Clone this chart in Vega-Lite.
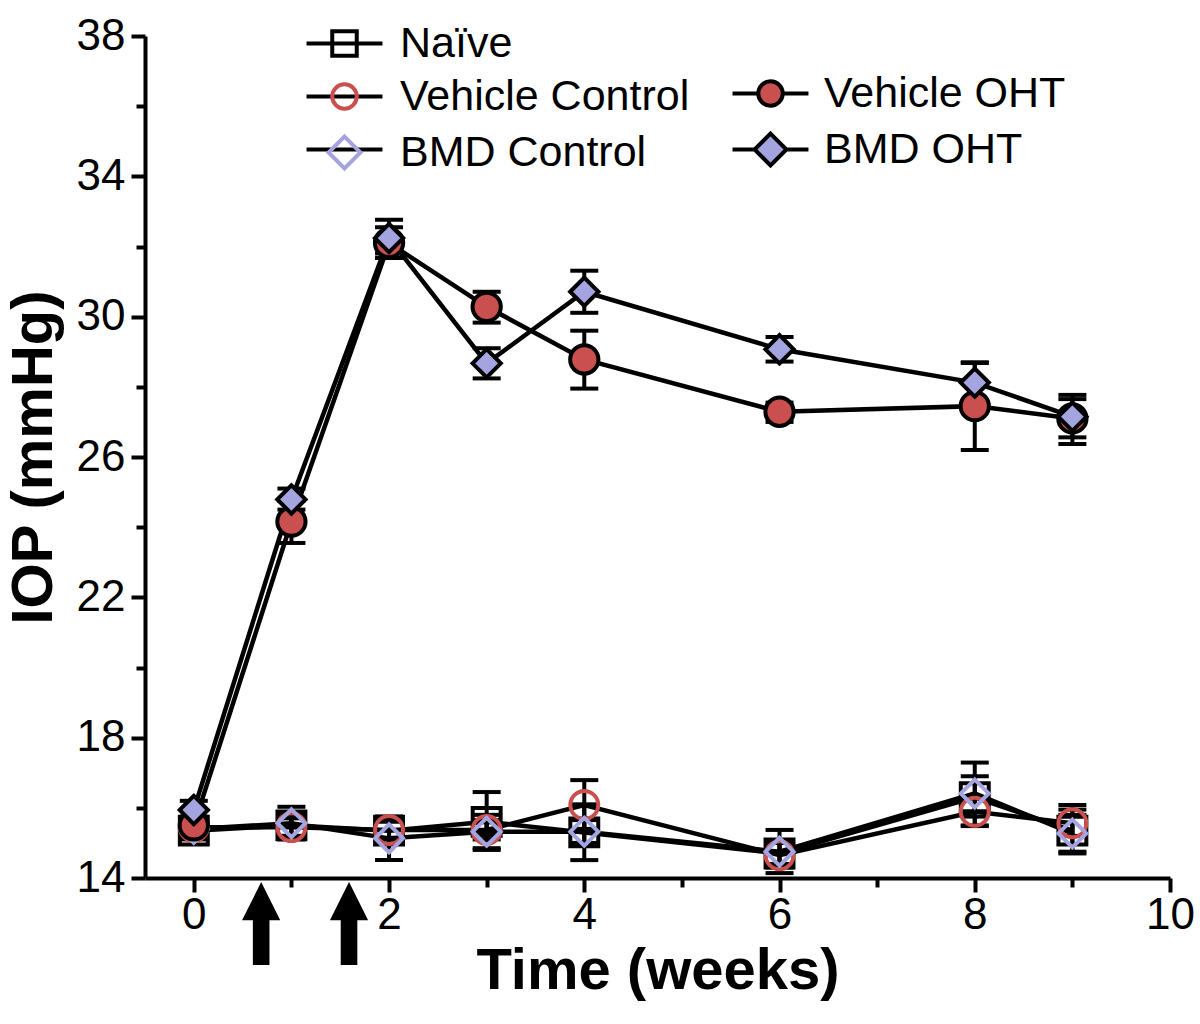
{
  "$schema": "https://vega.github.io/schema/vega-lite/v6.json",
  "autosize": {"type": "none"},
  "width": 1025,
  "height": 842,
  "padding": {"left": 145, "top": 36, "right": 30, "bottom": 146},
  "background": "white",
  "config": {
    "view": {"stroke": null},
    "font": "Liberation Sans",
    "axis": {"grid": false, "domainColor": "black", "domainWidth": 4, "tickColor": "black", "tickWidth": 4, "labelColor": "black", "titleColor": "black", "labelFont": "Liberation Sans", "titleFont": "Liberation Sans", "labelFlush": false},
    "legend": {"labelFont": "Liberation Sans", "labelColor": "black", "labelFontSize": 43, "labelLimit": 0, "padding": 0, "rowPadding": 9, "title": null}
  },
  "datasets": {
    "iop": [
      {"week": 0, "group": "Naïve", "iop": 15.35, "lo": 15.1, "hi": 15.6},
      {"week": 1, "group": "Naïve", "iop": 15.5, "lo": 15.2, "hi": 15.8},
      {"week": 2, "group": "Naïve", "iop": 15.35, "lo": 15.1, "hi": 15.6},
      {"week": 3, "group": "Naïve", "iop": 15.6, "lo": 14.8, "hi": 16.45},
      {"week": 4, "group": "Naïve", "iop": 15.3, "lo": 15.0, "hi": 15.65},
      {"week": 6, "group": "Naïve", "iop": 14.7, "lo": 14.4, "hi": 15.0},
      {"week": 8, "group": "Naïve", "iop": 16.3, "lo": 15.75, "hi": 16.9},
      {"week": 9, "group": "Naïve", "iop": 15.35, "lo": 14.75, "hi": 16.08},
      {"week": 0, "group": "Vehicle Control", "iop": 15.45, "lo": 15.2, "hi": 15.7},
      {"week": 1, "group": "Vehicle Control", "iop": 15.45, "lo": 15.2, "hi": 15.7},
      {"week": 2, "group": "Vehicle Control", "iop": 15.37, "lo": 15.1, "hi": 15.65},
      {"week": 3, "group": "Vehicle Control", "iop": 15.37, "lo": 15.1, "hi": 15.65},
      {"week": 4, "group": "Vehicle Control", "iop": 16.08, "lo": 15.4, "hi": 16.79},
      {"week": 6, "group": "Vehicle Control", "iop": 14.65, "lo": 14.3, "hi": 15.0},
      {"week": 8, "group": "Vehicle Control", "iop": 15.89, "lo": 15.48, "hi": 16.3},
      {"week": 9, "group": "Vehicle Control", "iop": 15.56, "lo": 15.2, "hi": 15.95},
      {"week": 0, "group": "BMD Control", "iop": 15.4, "lo": 15.15, "hi": 15.65},
      {"week": 1, "group": "BMD Control", "iop": 15.56, "lo": 15.1, "hi": 16.03},
      {"week": 2, "group": "BMD Control", "iop": 15.13, "lo": 14.51, "hi": 15.75},
      {"week": 3, "group": "BMD Control", "iop": 15.32, "lo": 14.85, "hi": 15.8},
      {"week": 4, "group": "BMD Control", "iop": 15.32, "lo": 14.51, "hi": 16.1},
      {"week": 6, "group": "BMD Control", "iop": 14.75, "lo": 14.14, "hi": 15.37},
      {"week": 8, "group": "BMD Control", "iop": 16.41, "lo": 15.5, "hi": 17.29},
      {"week": 9, "group": "BMD Control", "iop": 15.27, "lo": 14.7, "hi": 15.8},
      {"week": 0, "group": "Vehicle OHT", "iop": 15.5, "lo": 15.25, "hi": 15.75},
      {"week": 1, "group": "Vehicle OHT", "iop": 24.16, "lo": 23.55, "hi": 24.75},
      {"week": 2, "group": "Vehicle OHT", "iop": 32.1, "lo": 31.67, "hi": 32.55},
      {"week": 3, "group": "Vehicle OHT", "iop": 30.28, "lo": 29.83, "hi": 30.71},
      {"week": 4, "group": "Vehicle OHT", "iop": 28.78, "lo": 27.95, "hi": 29.6},
      {"week": 6, "group": "Vehicle OHT", "iop": 27.29, "lo": 27.0, "hi": 27.55},
      {"week": 8, "group": "Vehicle OHT", "iop": 27.45, "lo": 26.2, "hi": 28.7},
      {"week": 9, "group": "Vehicle OHT", "iop": 27.1, "lo": 26.56, "hi": 27.65},
      {"week": 0, "group": "BMD OHT", "iop": 15.94, "lo": 15.7, "hi": 16.2},
      {"week": 1, "group": "BMD OHT", "iop": 24.79, "lo": 24.5, "hi": 25.1},
      {"week": 2, "group": "BMD OHT", "iop": 32.24, "lo": 31.8, "hi": 32.76},
      {"week": 3, "group": "BMD OHT", "iop": 28.67, "lo": 28.24, "hi": 29.1},
      {"week": 4, "group": "BMD OHT", "iop": 30.71, "lo": 30.11, "hi": 31.31},
      {"week": 6, "group": "BMD OHT", "iop": 29.07, "lo": 28.72, "hi": 29.42},
      {"week": 8, "group": "BMD OHT", "iop": 28.12, "lo": 27.6, "hi": 28.68},
      {"week": 9, "group": "BMD OHT", "iop": 27.15, "lo": 26.37, "hi": 27.77}
    ],
    "arrows": [
      {"week": 0.69, "iop": 12.7},
      {"week": 1.59, "iop": 12.7}
    ]
  },
  "data": {"name": "iop"},
  "encoding": {
    "x": {"field": "week", "type": "quantitative", "scale": {"domain": [-0.5, 10], "nice": false, "zero": false},
      "axis": {"title": "Time (weeks)", "values": [0,1,2,3,4,5,6,7,8,9,10],
        "labelExpr": "datum.value % 2 === 0 ? datum.label : ''",
        "tickSize": {"condition": {"test": "datum.value % 2 === 0", "value": 14}, "value": 9},
        "labelFontSize": 44, "labelPadding": 1, "titleFontSize": 58, "titleFontWeight": "bold", "titlePadding": 5}},
    "y": {"field": "iop", "type": "quantitative", "scale": {"domain": [14, 38], "nice": false, "zero": false},
      "axis": {"title": "IOP (mmHg)", "values": [14,16,18,20,22,24,26,28,30,32,34,36,38],
        "labelExpr": "(datum.value - 14) % 4 === 0 ? datum.label : ''",
        "tickSize": {"condition": {"test": "(datum.value - 14) % 4 === 0", "value": 14}, "value": 9},
        "labelFontSize": 44, "labelPadding": 6, "titleFontSize": 58, "titleFontWeight": "bold", "titlePadding": 13}}
  },
  "layer": [
    {
      "mark": {"type": "line", "color": "black", "strokeWidth": 4.5},
      "encoding": {"detail": {"field": "group"}}
    },
    {
      "mark": {"type": "rule", "color": "black", "strokeWidth": 4},
      "encoding": {"y": {"field": "lo", "type": "quantitative"}, "y2": {"field": "hi"}}
    },
    {
      "mark": {"type": "tick", "orient": "horizontal", "color": "black", "size": 28, "thickness": 4, "opacity": 1},
      "encoding": {"y": {"field": "lo", "type": "quantitative"}}
    },
    {
      "mark": {"type": "tick", "orient": "horizontal", "color": "black", "size": 28, "thickness": 4, "opacity": 1},
      "encoding": {"y": {"field": "hi", "type": "quantitative"}}
    },
    {
      "transform": [{"filter": "indexof(['Naïve','Vehicle Control','BMD Control'], datum.group) >= 0"}],
      "mark": {"type": "point", "filled": false, "fill": "transparent", "strokeWidth": 4, "size": 780, "opacity": 1},
      "encoding": {
        "shape": {"field": "group", "type": "nominal", "scale": {"domain": ["Naïve", "Vehicle Control", "BMD Control"], "range": ["square", "circle", "diamond"]}, "legend": null},
        "stroke": {"field": "group", "type": "nominal", "scale": {"domain": ["Naïve", "Vehicle Control", "BMD Control"], "range": ["black", "#c9504e", "#a4a4e0"]}, "legend": null}
      }
    },
    {
      "transform": [{"filter": "indexof(['Vehicle OHT','BMD OHT'], datum.group) >= 0"}],
      "mark": {"type": "point", "filled": true, "stroke": "black", "strokeWidth": 4, "size": 800, "opacity": 1},
      "encoding": {
        "shape": {"field": "group", "type": "nominal", "scale": {"domain": ["Vehicle OHT", "BMD OHT"], "range": ["circle", "diamond"]}, "legend": null},
        "fill": {"field": "group", "type": "nominal", "scale": {"domain": ["Vehicle OHT", "BMD OHT"], "range": ["#c9504e", "#a4a4e0"]}, "legend": null}
      }
    },
    {
      "data": {"name": "arrows"},
      "mark": {"type": "point", "filled": true, "color": "black", "strokeWidth": 0, "opacity": 1, "size": 6889,
        "shape": "M0,-1L0.46,-0.08L0.2,-0.08L0.2,1L-0.2,1L-0.2,-0.08L-0.46,-0.08Z"}
    },
    {
      "transform": [{"filter": "false"}],
      "mark": {"type": "point", "filled": false, "stroke": "black", "strokeWidth": 4, "opacity": 1},
      "encoding": {
        "x": {"value": 0}, "y": {"value": 0},
        "shape": {"field": "group", "type": "nominal", "scale": {"domain": ["Naïve", "Vehicle Control", "BMD Control"], "range": ["M-3.1,0H3.1", "M-3.1,0H3.1", "M-3.1,0H3.1"]},
          "legend": {"orient": "none", "legendX": 178, "legendY": -14, "symbolSize": 600, "symbolStrokeWidth": 4, "labelOffset": 34, "labelOpacity": 0, "labelExpr": "' '", "symbolStrokeColor": "black"}}
      }
    },
    {
      "transform": [{"filter": "false"}],
      "mark": {"type": "point", "filled": false, "fill": "transparent", "strokeWidth": 4, "opacity": 1},
      "encoding": {
        "x": {"value": 0}, "y": {"value": 0},
        "shape": {"field": "group", "type": "nominal", "scale": {"domain": ["Naïve", "Vehicle Control", "BMD Control"], "range": ["square", "circle", "M0,-1.3L1.3,0L0,1.3L-1.3,0Z"]},
          "legend": {"orient": "none", "legendX": 178, "legendY": -14, "symbolSize": 600, "symbolStrokeWidth": 4, "labelOffset": 34}},
        "stroke": {"field": "group", "type": "nominal", "scale": {"domain": ["Naïve", "Vehicle Control", "BMD Control"], "range": ["black", "#c9504e", "#a4a4e0"]},
          "legend": {"orient": "none", "legendX": 178, "legendY": -14, "symbolSize": 600, "symbolStrokeWidth": 4, "labelOffset": 34}}
      }
    },
    {
      "transform": [{"filter": "false"}],
      "mark": {"type": "point", "filled": true, "strokeWidth": 4, "opacity": 1},
      "encoding": {
        "x": {"value": 0}, "y": {"value": 0},
        "stroke": {"field": "group", "type": "nominal", "scale": {"domain": ["Vehicle OHT", "BMD OHT"], "range": ["black", "black"]},
          "legend": {"orient": "none", "legendX": 604, "legendY": 36, "symbolSize": 600, "symbolStrokeWidth": 4, "labelOffset": 32}},
        "shape": {"field": "group", "type": "nominal", "scale": {"domain": ["Vehicle OHT", "BMD OHT"], "range": ["M-3.1,0H-1M1,0H3.1M-1,0C-1,-0.5523,-0.5523,-1,0,-1C0.5523,-1,1,-0.5523,1,0C1,0.5523,0.5523,1,0,1C-0.5523,1,-1,0.5523,-1,0Z", "M-3.1,0H-1.3M1.3,0H3.1M0,-1.3L1.3,0L0,1.3L-1.3,0Z"]},
          "legend": {"orient": "none", "legendX": 604, "legendY": 36, "symbolSize": 600, "symbolStrokeWidth": 4, "labelOffset": 32}},
        "fill": {"field": "group", "type": "nominal", "scale": {"domain": ["Vehicle OHT", "BMD OHT"], "range": ["#c9504e", "#a4a4e0"]},
          "legend": {"orient": "none", "legendX": 604, "legendY": 36, "symbolSize": 600, "symbolStrokeWidth": 4, "labelOffset": 32}}
      }
    }
  ],
  "resolve": {
    "scale": {"shape": "independent", "fill": "independent", "stroke": "independent"},
    "legend": {"shape": "independent", "fill": "independent", "stroke": "independent"}
  }
}
